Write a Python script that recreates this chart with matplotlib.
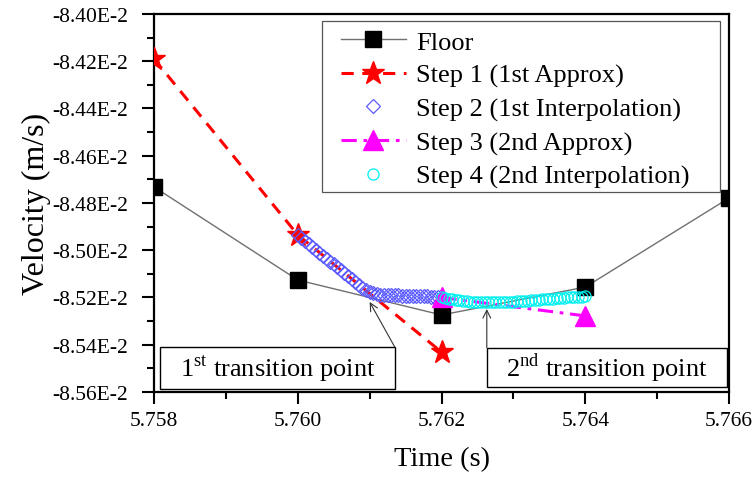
import numpy as np
import matplotlib
matplotlib.use('Agg')
import matplotlib.pyplot as plt
from matplotlib.ticker import MultipleLocator, FuncFormatter
from matplotlib.patches import Rectangle

plt.rcParams['font.family'] = 'Liberation Serif'
plt.rcParams['mathtext.fontset'] = 'custom'
plt.rcParams['mathtext.rm'] = 'Liberation Serif'

# velocities in units of 1E-2 m/s
floor_t = [5.758, 5.760, 5.762, 5.764, 5.766]
floor_v = [-8.4732, -8.5126, -8.5274, -8.5156, -8.4779]

step1_t = [5.758, 5.760, 5.762]
step1_v = [-8.4190, -8.4935, -8.5431]

step2_t = np.round(np.arange(5.76000, 5.762001, 0.00005), 5)
step2_v = [-8.4935, -8.4948, -8.4960, -8.4973, -8.4985, -8.4998, -8.5010, -8.5023,
           -8.5035, -8.5048, -8.5060, -8.5073, -8.5085, -8.5098, -8.5110, -8.5123,
           -8.5135, -8.5147, -8.5158, -8.5168, -8.5176, -8.5182, -8.5186, -8.5188,
           -8.5189, -8.5190, -8.5190, -8.5191, -8.5191, -8.5192, -8.5192, -8.5193,
           -8.5193, -8.5194, -8.5194, -8.5195, -8.5195, -8.5196, -8.5196, -8.5197,
           -8.5197]

step3_t = [5.762, 5.764]
step3_v = [-8.5200, -8.5278]

step4_t = np.round(np.arange(5.76200, 5.764001, 0.00005), 5)
step4_v = [-8.5198, -8.5202, -8.5205, -8.5208, -8.5210, -8.5212, -8.5214, -8.5216,
           -8.5217, -8.5218, -8.5219, -8.5220, -8.5220, -8.5221, -8.5221, -8.5221,
           -8.5220, -8.5220, -8.5219, -8.5218, -8.5217, -8.5216, -8.5215, -8.5214,
           -8.5213, -8.5212, -8.5211, -8.5210, -8.5208, -8.5207, -8.5206, -8.5205,
           -8.5203, -8.5202, -8.5201, -8.5200, -8.5199, -8.5198, -8.5197, -8.5196,
           -8.5195]

fig = plt.figure(figsize=(7.55, 4.81), dpi=100)
ax = fig.add_axes([0.204, 0.183, 0.7616, 0.7858])

ax.plot(floor_t, floor_v, color='#707070', lw=1, marker='s', ms=12,
        mfc='black', mec='black', label='Floor', zorder=2)
ax.plot(step1_t, step1_v, color='red', lw=2.2, dashes=(4, 2.8), marker='*', ms=17,
        mfc='red', mec='red', label='Step 1 (1st Approx)', zorder=3)
ax.plot(step2_t, step2_v, ls='none', marker='D', ms=7.5, mfc='none', mec='#5a5aff',
        mew=0.9, label='Step 2 (1st Interpolation)', zorder=4)
ax.plot(step3_t, step3_v, color='#ff00ff', lw=2.2, dashes=(5, 2.2, 1.2, 2.2), marker='^',
        ms=14, mfc='#ff00ff', mec='#ff00ff', label='Step 3 (2nd Approx)', zorder=5)
ax.plot(step4_t, step4_v, ls='none', marker='o', ms=8, mfc='none', mec='#00f0f0',
        mew=0.9, label='Step 4 (2nd Interpolation)', zorder=6)

ax.set_xlim(5.758, 5.766)
ax.set_ylim(-8.56, -8.40)
ax.xaxis.set_major_locator(MultipleLocator(0.002))
ax.xaxis.set_minor_locator(MultipleLocator(0.001))
ax.yaxis.set_major_locator(MultipleLocator(0.02))
ax.yaxis.set_minor_locator(MultipleLocator(0.01))
ax.xaxis.set_major_formatter(FuncFormatter(lambda v, p: f"{v:.3f}"))
ax.yaxis.set_major_formatter(FuncFormatter(lambda v, p: f"{v:.2f}E-2"))
ax.tick_params(which='major', direction='out', length=8.5, width=1.5, labelsize=15.5, pad=5)
ax.tick_params(axis='y', which='major', pad=10)
ax.tick_params(which='minor', direction='out', length=5, width=1.5)
for s in ax.spines.values():
    s.set_linewidth(1.6)

ax.set_xlabel('Time (s)', fontsize=20.5, labelpad=12)
ax.set_ylabel('Velocity (m/s)', fontsize=23, labelpad=1)

# legend frame drawn separately so the side padding can be wider than the top one
ax.add_patch(Rectangle((0.292, 0.529), 0.692, 0.452, transform=ax.transAxes,
                       fc='white', ec='#555555', lw=0.9, zorder=9))
leg = ax.legend(loc='upper left', bbox_to_anchor=(0.325, 0.957), fontsize=19, frameon=False,
                borderpad=0, labelspacing=0.37, handlelength=2.45, handletextpad=0.4,
                borderaxespad=0, numpoints=1)
leg.set_zorder(10)

# transition point callouts
box1 = (5.75808, -8.5587, 0.00327, 0.0177)
box2 = (5.76263, -8.5579, 0.00334, 0.0166)
for bx in (box1, box2):
    ax.add_patch(Rectangle(bx[:2], bx[2], bx[3], fc='white', ec='black', lw=1, zorder=7))
ax.text(box1[0] + box1[2] / 2, box1[1] + box1[3] / 2, '1$^{\\rm st}$ transition point',
        ha='center', va='center', fontsize=19, zorder=8)
ax.text(box2[0] + box2[2] / 2, box2[1] + box2[3] / 2, '2$^{\\rm nd}$ transition point',
        ha='center', va='center', fontsize=19, zorder=8)
ax.annotate('', xy=(5.7610, -8.5219), xytext=(box1[0] + box1[2], box1[1] + box1[3]),
            arrowprops=dict(arrowstyle='->', lw=0.8, color='#333333', shrinkA=0, shrinkB=0,
                            mutation_scale=14), zorder=8)
ax.annotate('', xy=(box2[0], -8.5249), xytext=(box2[0], box2[1] + box2[3]),
            arrowprops=dict(arrowstyle='->', lw=0.8, color='#333333', shrinkA=0, shrinkB=0,
                            mutation_scale=14), zorder=8)

fig.savefig('out.png', dpi=100)
